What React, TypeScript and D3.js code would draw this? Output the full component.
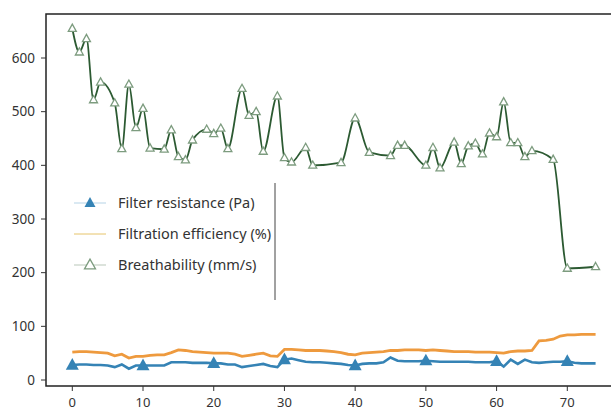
import React from 'react';
import * as d3 from 'd3';

// x positions 0..74
const resistance = [
  28, 29, 29, 28, 28, 27, 24, 29, 21, 27, 27, 27, 27, 27, 33, 33, 33, 32, 32, 32,
  31, 31, 29, 29, 24, 26, 28, 30, 26, 24, 38, 40, 37, 34, 33, 33, 32, 31, 30, 28,
  27, 30, 31, 31, 33, 42, 36, 35, 35, 35, 36, 35, 34, 34, 34, 34, 34, 33, 33, 33,
  35, 25, 38, 30, 38, 33, 32, 33, 34, 34, 35, 32, 31, 31, 31,
];
const efficiency = [
  52, 53, 53, 52, 51, 50, 45, 48, 41, 44, 44, 46, 47, 47, 51, 56, 55, 53, 52, 51,
  50, 50, 50, 48, 44, 46, 48, 50, 45, 44, 57, 57, 56, 55, 55, 55, 54, 53, 51, 48,
  47, 50, 51, 52, 53, 55, 55, 56, 56, 56, 55, 56, 55, 54, 53, 53, 53, 52, 52, 52,
  51, 50, 53, 54, 54, 55, 73, 74, 76, 82, 84, 84, 85, 85, 85,
];
// breathability is sampled at these x values only
const breathX = [
  0, 1, 2, 3, 4, 6, 7, 8, 9, 10, 11, 13, 14, 15, 16, 17, 19, 20, 21, 22, 24, 25, 26,
  27, 29, 30, 31, 33, 34, 38, 40, 42, 45, 46, 47, 50, 51, 52, 54, 55, 56, 57, 58, 59,
  60, 61, 62, 63, 64, 65, 68, 70, 74,
];
const breathability = [
  655, 611, 636, 522, 555, 516, 431, 551, 470, 506, 432, 430, 466, 416, 410, 447, 467,
  459, 469, 431, 543, 493, 500, 426, 529, 414, 406, 433, 400, 405, 488, 424, 418, 437,
  437, 400, 433, 395, 443, 403, 436, 441, 421, 460, 453, 518, 442, 442, 416, 427, 411,
  208, 211,
];
const xTicks = [0, 10, 20, 30, 40, 50, 60, 70];
const yTicks = [0, 100, 200, 300, 400, 500, 600];
const legendLabels = ['Filter resistance (Pa)', 'Filtration efficiency (%)', 'Breathability (mm/s)'];

const W = 611;
const H = 412;
const frame = { left: 46, top: 14, right: 612, bottom: 386 };
const font = "'Noto Sans', 'Open Sans', sans-serif";

const BLUE = '#3583b5';
const ORANGE = '#ee9a3e';
const GREEN_LINE = '#2c5a32';
const GREEN_MARK = '#7d9c7f';

const x = d3.scaleLinear().domain([0, 70]).range([72.3, 567.3]);
const y = d3.scaleLinear().domain([0, 600]).range([380, 58]);

const tri = (cx: number, cy: number, s: number) => {
  const h = s * 0.9;
  return `M${cx},${cy - h * 0.6}L${cx + s / 2},${cy + h * 0.4}L${cx - s / 2},${cy + h * 0.4}Z`;
};

export default function App() {
  const idx = d3.range(resistance.length);
  const lineIdx = (arr: number[]) =>
    d3.line<number>().x((i) => x(i)).y((i) => y(arr[i]))(idx) || '';
  const breathPts = breathX.map((v, i) => [v, breathability[i]] as [number, number]);
  const breathPath =
    d3
      .line<[number, number]>()
      .x((d) => x(d[0]))
      .y((d) => y(d[1]))
      .curve(d3.curveMonotoneX)(breathPts) || '';

  const legendY = [203, 234, 265];

  return (
    <svg
      width={W}
      height={H}
      style={{ position: 'absolute', left: 0, top: 0, background: '#fff' }}
      fontFamily={font}
    >
      {/* series */}
      <path d={lineIdx(efficiency)} fill="none" stroke={ORANGE} strokeWidth={2.8} />
      <path d={lineIdx(resistance)} fill="none" stroke={BLUE} strokeWidth={2.6} />
      {xTicks.map((t) => (
        <path key={t} d={tri(x(t), y(resistance[t]), 13)} fill={BLUE} />
      ))}
      <path d={breathPath} fill="none" stroke={GREEN_LINE} strokeWidth={1.8} />
      {breathPts.map((d, i) => (
        <path
          key={i}
          d={tri(x(d[0]), y(d[1]), 8)}
          fill="#fff"
          stroke={GREEN_MARK}
          strokeWidth={1.3}
        />
      ))}

      {/* frame */}
      <path
        d={`M${frame.right},${frame.top}H${frame.left}V${frame.bottom}H${frame.right}`}
        fill="none"
        stroke="#222"
        strokeWidth={1.5}
      />
      {yTicks.map((t) => (
        <g key={t}>
          <line x1={frame.left - 5} x2={frame.left} y1={y(t)} y2={y(t)} stroke="#333" />
          <text x={frame.left - 11} y={y(t)} dy="0.35em" textAnchor="end" fontSize={13.5} fill="#333">
            {t}
          </text>
        </g>
      ))}
      {xTicks.map((t) => (
        <g key={t}>
          <line x1={x(t)} x2={x(t)} y1={frame.bottom} y2={frame.bottom + 5} stroke="#333" />
          <text x={x(t)} y={frame.bottom + 21} textAnchor="middle" fontSize={13} fill="#333">
            {t}
          </text>
        </g>
      ))}

      {/* legend */}
      <line x1={275} x2={275} y1={183} y2={300} stroke="#444" strokeWidth={1} />
      <line x1={74} x2={106} y1={legendY[0]} y2={legendY[0]} stroke="#b5d3e6" strokeWidth={1} />
      <path d={tri(90, legendY[0], 11)} fill={BLUE} />
      <line x1={74} x2={106} y1={legendY[1]} y2={legendY[1]} stroke="#e6c46a" strokeWidth={1} />
      <line x1={74} x2={106} y1={legendY[2]} y2={legendY[2]} stroke="#b9c7b9" strokeWidth={1} />
      <path d={tri(90, legendY[2], 11)} fill="#fff" stroke={GREEN_MARK} strokeWidth={1.3} />
      {legendLabels.map((l, i) => (
        <text key={l} x={118} y={legendY[i]} dy="0.35em" fontSize={14.5} fill="#333">
          {l}
        </text>
      ))}
    </svg>
  );
}
